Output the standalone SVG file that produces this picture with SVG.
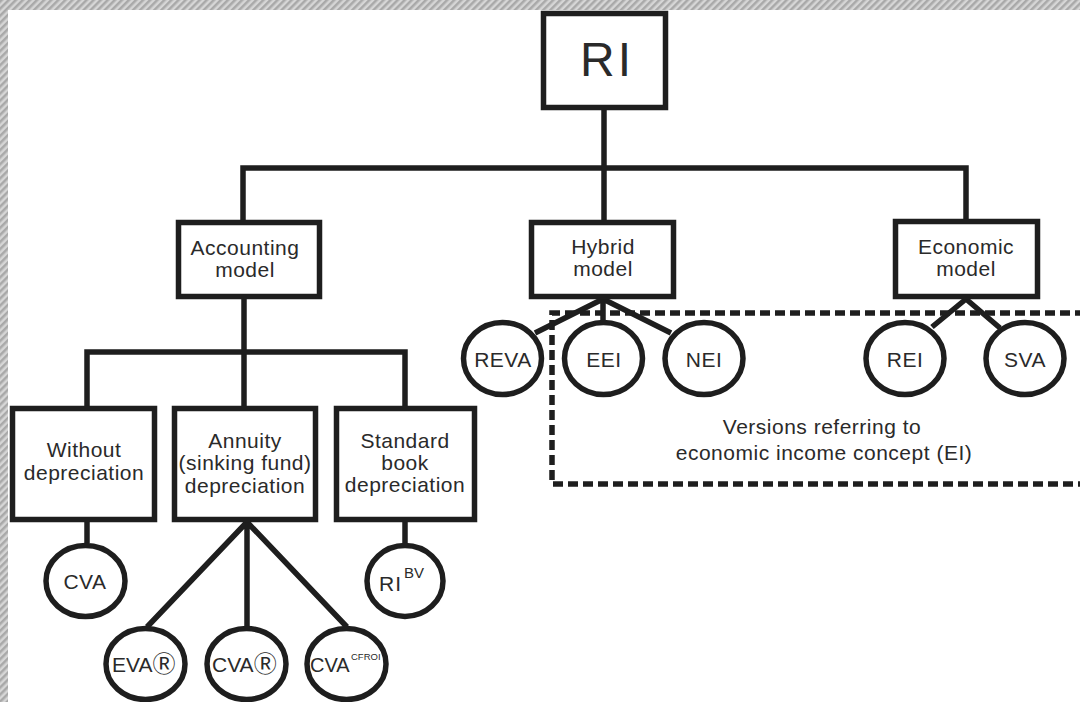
<svg xmlns="http://www.w3.org/2000/svg" width="1080" height="702" viewBox="0 0 1080 702">
  <defs>
    <pattern id="hatch" width="5" height="5" patternUnits="userSpaceOnUse" patternTransform="rotate(45)">
      <rect width="5" height="5" fill="#d6d6d6"/>
      <rect width="2.5" height="5" fill="#a9a9a9"/>
    </pattern>
    <style>
      .box { fill: #ffffff; stroke: #1e1e1e; stroke-width: 5.5; }
      .oval { fill: #ffffff; stroke: #1e1e1e; stroke-width: 5.5; }
      .wire { fill: none; stroke: #1e1e1e; stroke-width: 5.5; stroke-linejoin: miter; }
      .dash { fill: none; stroke: #1e1e1e; stroke-width: 5.5; stroke-dasharray: 10 5; }
      .lbl { font-family: "Liberation Sans", Arial, sans-serif; font-size: 21px; fill: #2a2a2a; text-anchor: middle; letter-spacing: 0.5px; }
      .sup { font-family: "Liberation Sans", Arial, sans-serif; fill: #2a2a2a; }
      .reg { font-family: "Noto Sans CJK JP", "DejaVu Sans", sans-serif; }
    </style>
  </defs>

  <rect width="1080" height="702" fill="#ffffff"/>
  <!-- hatched frame on top and left edges -->
  <rect x="0" y="0" width="1080" height="10" fill="url(#hatch)"/>
  <rect x="0" y="0" width="8" height="702" fill="url(#hatch)"/>

  <!-- connectors -->
  <g id="connectors">
    <path class="wire" d="M243,220 V168 H966 V220"/>
    <path class="wire" d="M604,110 V220"/>
    <path class="wire" d="M244,299 V406"/>
    <path class="wire" d="M87,406 V352 H405 V406"/>
    <path class="wire" d="M87,522 V543"/>
    <path class="wire" d="M405,522 V543"/>
    <path class="wire" d="M247,522 L147,627 M247,522 V627 M247,522 L347,627"/>
    <path class="wire" d="M603,299 L535,333 M603,299 V320 M603,299 L671,333"/>
    <path class="wire" d="M966,299 L932,327 M966,299 L1000,328"/>
    <path class="dash" d="M1085,313 H552 V484 H1085"/>
  </g>

  <!-- top node -->
  <g id="node-ri">
    <rect class="box" x="543.5" y="13.5" width="122" height="94"/>
    <text x="607" y="76" class="lbl" style="font-size:48px;letter-spacing:3px">RI</text>
  </g>

  <!-- model level -->
  <g id="node-accounting">
    <rect class="box" x="178.5" y="222.5" width="141" height="74"/>
    <text class="lbl" x="245" y="255">Accounting</text>
    <text class="lbl" x="245" y="277">model</text>
  </g>
  <g id="node-hybrid">
    <rect class="box" x="531.5" y="222.5" width="142" height="74"/>
    <text class="lbl" x="603" y="254">Hybrid</text>
    <text class="lbl" x="603" y="276">model</text>
  </g>
  <g id="node-economic">
    <rect class="box" x="895.5" y="221.5" width="142" height="75"/>
    <text class="lbl" x="966" y="254">Economic</text>
    <text class="lbl" x="966" y="276">model</text>
  </g>

  <!-- depreciation variants -->
  <g id="node-without">
    <rect class="box" x="12.5" y="408.5" width="142" height="111"/>
    <text class="lbl" x="84" y="457">Without</text>
    <text class="lbl" x="84" y="480">depreciation</text>
  </g>
  <g id="node-annuity">
    <rect class="box" x="174.5" y="408.5" width="141" height="111"/>
    <text class="lbl" x="245" y="448">Annuity</text>
    <text class="lbl" x="245" y="470">(sinking fund)</text>
    <text class="lbl" x="245" y="493">depreciation</text>
  </g>
  <g id="node-standard">
    <rect class="box" x="336.5" y="408.5" width="138" height="111"/>
    <text class="lbl" x="405" y="448">Standard</text>
    <text class="lbl" x="405" y="470">book</text>
    <text class="lbl" x="405" y="492">depreciation</text>
  </g>

  <!-- hybrid measures -->
  <g id="node-reva">
    <ellipse class="oval" cx="502.5" cy="358.5" rx="39" ry="36"/>
    <text class="lbl" x="503" y="367">REVA</text>
  </g>
  <g id="node-eei">
    <ellipse class="oval" cx="603.5" cy="358.5" rx="39" ry="36"/>
    <text class="lbl" x="604" y="367">EEI</text>
  </g>
  <g id="node-nei">
    <ellipse class="oval" cx="704" cy="358.5" rx="39" ry="36"/>
    <text class="lbl" x="704" y="367">NEI</text>
  </g>

  <!-- economic measures -->
  <g id="node-rei">
    <ellipse class="oval" cx="905" cy="358.5" rx="39" ry="36"/>
    <text class="lbl" x="905" y="367">REI</text>
  </g>
  <g id="node-sva">
    <ellipse class="oval" cx="1025" cy="358.5" rx="39" ry="36"/>
    <text class="lbl" x="1025" y="367">SVA</text>
  </g>

  <!-- dashed group caption -->
  <g id="note-ei">
    <text class="lbl" x="822" y="434">Versions referring to</text>
    <text class="lbl" x="824" y="460">economic income concept (EI)</text>
  </g>

  <!-- accounting measures -->
  <g id="node-cva">
    <ellipse class="oval" cx="85.5" cy="581" rx="39.5" ry="35.5"/>
    <text class="lbl" x="85" y="589">CVA</text>
  </g>
  <g id="node-ribv">
    <ellipse class="oval" cx="405" cy="581" rx="38" ry="35.5"/>
    <text class="sup" x="379" y="591" style="font-size:21px;letter-spacing:1px">RI</text>
    <text class="sup" x="404" y="578" style="font-size:15px">BV</text>
  </g>
  <g id="node-eva">
    <ellipse class="oval" cx="145.5" cy="664" rx="39.5" ry="35.5"/>
    <text class="sup" x="112" y="672" style="font-size:21px">EVA<tspan class="reg" style="font-size:23px">Ⓡ</tspan></text>
  </g>
  <g id="node-cva-reg">
    <ellipse class="oval" cx="246.5" cy="664" rx="39.5" ry="35.5"/>
    <text class="sup" x="212" y="672" style="font-size:21px">CVA<tspan class="reg" style="font-size:23px">Ⓡ</tspan></text>
  </g>
  <g id="node-cva-cfroi">
    <ellipse class="oval" cx="346.5" cy="664" rx="39.5" ry="35.5"/>
    <text class="sup" x="310" y="672" style="font-size:20px">CVA</text>
    <text class="sup" x="351" y="660" style="font-size:9.5px">CFROI</text>
  </g>
</svg>
